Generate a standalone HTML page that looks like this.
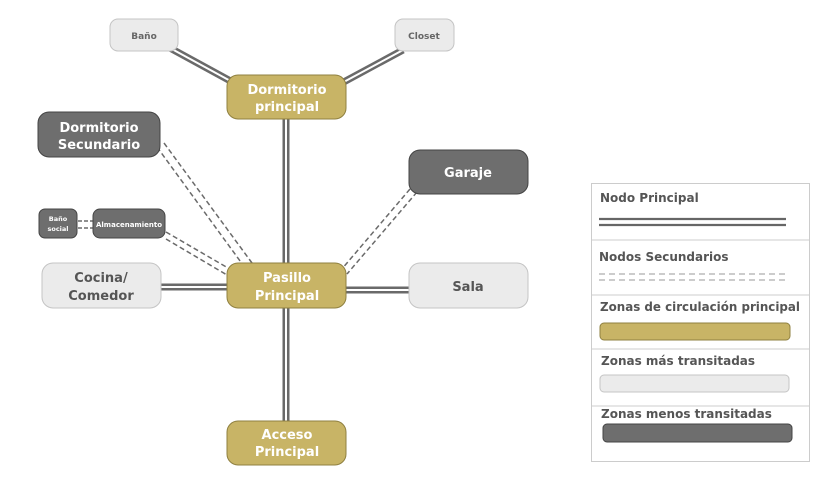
<!DOCTYPE html>
<html><head><meta charset="utf-8"><style>
html,body{margin:0;padding:0;background:#fff;}
svg text{font-family:"DejaVu Sans","Liberation Sans",sans-serif;font-weight:bold;}
</style></head><body>
<svg width="827" height="476" viewBox="0 0 827 476" xmlns="http://www.w3.org/2000/svg">
<!-- solid double connectors -->
<g stroke="#6a6a6a" stroke-width="7" fill="none">
<line x1="286" y1="119" x2="286" y2="263"/>
<line x1="286" y1="308" x2="286" y2="421"/>
<line x1="161" y1="287" x2="227" y2="287"/>
<line x1="346" y1="290" x2="409" y2="290"/>
<line x1="170" y1="48" x2="236" y2="84"/>
<line x1="403" y1="50" x2="340" y2="84"/>
</g>
<g stroke="#fff" stroke-width="2" fill="none">
<line x1="286" y1="119" x2="286" y2="263"/>
<line x1="286" y1="308" x2="286" y2="421"/>
<line x1="161" y1="287" x2="227" y2="287"/>
<line x1="346" y1="290" x2="409" y2="290"/>
<line x1="170" y1="48" x2="236" y2="84"/>
<line x1="403" y1="50" x2="340" y2="84"/>
</g>
<!-- dashed connectors -->
<g stroke="#6a6a6a" stroke-width="1.5" stroke-dasharray="5,3" fill="none">
<line x1="157" y1="147" x2="243" y2="265"/>
<line x1="164" y1="143" x2="252" y2="263"/>
<line x1="166" y1="232" x2="228" y2="268"/>
<line x1="166" y1="239" x2="227" y2="275"/>
<line x1="410" y1="189" x2="341" y2="270"/>
<line x1="417" y1="192" x2="347" y2="274"/>
<line x1="78" y1="221" x2="93" y2="221" stroke-dasharray="4,2"/>
<line x1="78" y1="228" x2="93" y2="228" stroke-dasharray="4,2"/>
</g>
<!-- nodes -->
<g stroke-width="1">
<rect x="110" y="19" width="68" height="32" rx="8" fill="#ebebeb" stroke="#c4c4c4"/>
<rect x="395" y="19" width="59" height="32" rx="8" fill="#ebebeb" stroke="#c4c4c4"/>
<rect x="227" y="75" width="119" height="44" rx="11" fill="#c8b466" stroke="#8f8040"/>
<rect x="38" y="112" width="122" height="45" rx="11" fill="#6e6e6e" stroke="#444"/>
<rect x="409" y="150" width="119" height="44" rx="11" fill="#6e6e6e" stroke="#444"/>
<rect x="39" y="209" width="38" height="29" rx="6" fill="#6e6e6e" stroke="#444"/>
<rect x="93" y="209" width="72" height="29" rx="7" fill="#6e6e6e" stroke="#444"/>
<rect x="42" y="263" width="119" height="45" rx="11" fill="#ebebeb" stroke="#c4c4c4"/>
<rect x="227" y="263" width="119" height="45" rx="11" fill="#c8b466" stroke="#8f8040"/>
<rect x="409" y="263" width="119" height="45" rx="11" fill="#ebebeb" stroke="#c4c4c4"/>
<rect x="227" y="421" width="119" height="44" rx="11" fill="#c8b466" stroke="#8f8040"/>
</g>
<g text-anchor="middle">
<text x="144" y="39" font-size="9" fill="#666">Baño</text>
<text x="424" y="39" font-size="9" fill="#666">Closet</text>
<text x="287" y="94" font-size="13" fill="#fff">Dormitorio</text>
<text x="287" y="111" font-size="13" fill="#fff">principal</text>
<text x="99" y="132" font-size="13" fill="#fff">Dormitorio</text>
<text x="99" y="149" font-size="13" fill="#fff">Secundario</text>
<text x="468" y="177" font-size="13" fill="#fff">Garaje</text>
<text x="58" y="221" font-size="6.5" fill="#fff">Baño</text>
<text x="58" y="231" font-size="6.5" fill="#fff">social</text>
<text x="129" y="227" font-size="7" fill="#fff">Almacenamiento</text>
<text x="101" y="282" font-size="13" fill="#555">Cocina/</text>
<text x="101" y="300" font-size="13" fill="#555">Comedor</text>
<text x="287" y="282" font-size="13" fill="#fff">Pasillo</text>
<text x="287" y="300" font-size="13" fill="#fff">Principal</text>
<text x="468" y="291" font-size="13" fill="#555">Sala</text>
<text x="287" y="439" font-size="13" fill="#fff">Acceso</text>
<text x="287" y="456" font-size="13" fill="#fff">Principal</text>
</g>
<!-- legend -->
<rect x="591.5" y="183.5" width="218" height="278" fill="#fff" stroke="#ccc"/>
<g stroke="#ccc"><line x1="591" y1="240" x2="810" y2="240"/><line x1="591" y1="295" x2="810" y2="295"/><line x1="591" y1="349" x2="810" y2="349"/><line x1="591" y1="406" x2="810" y2="406"/></g>
<g font-size="12" fill="#555">
<text x="600" y="202">Nodo Principal</text>
<text x="599" y="261">Nodos Secundarios</text>
<text x="600" y="311" textLength="200" lengthAdjust="spacingAndGlyphs">Zonas de circulación principal</text>
<text x="601" y="365">Zonas más transitadas</text>
<text x="601" y="418">Zonas menos transitadas</text>
</g>
<g stroke="#666" stroke-width="2.2"><line x1="599" y1="219" x2="786" y2="219"/><line x1="599" y1="225" x2="786" y2="225"/></g>
<g stroke="#999" stroke-width="1" stroke-dasharray="6,4"><line x1="599" y1="274" x2="786" y2="274"/><line x1="599" y1="280" x2="786" y2="280"/></g>
<rect x="600" y="323" width="190" height="17" rx="4" fill="#c8b466" stroke="#8f8040"/>
<rect x="600" y="375" width="189" height="17" rx="4" fill="#ebebeb" stroke="#c4c4c4"/>
<rect x="603" y="424" width="189" height="18" rx="4" fill="#6e6e6e" stroke="#444"/>
</svg>
</body></html>
